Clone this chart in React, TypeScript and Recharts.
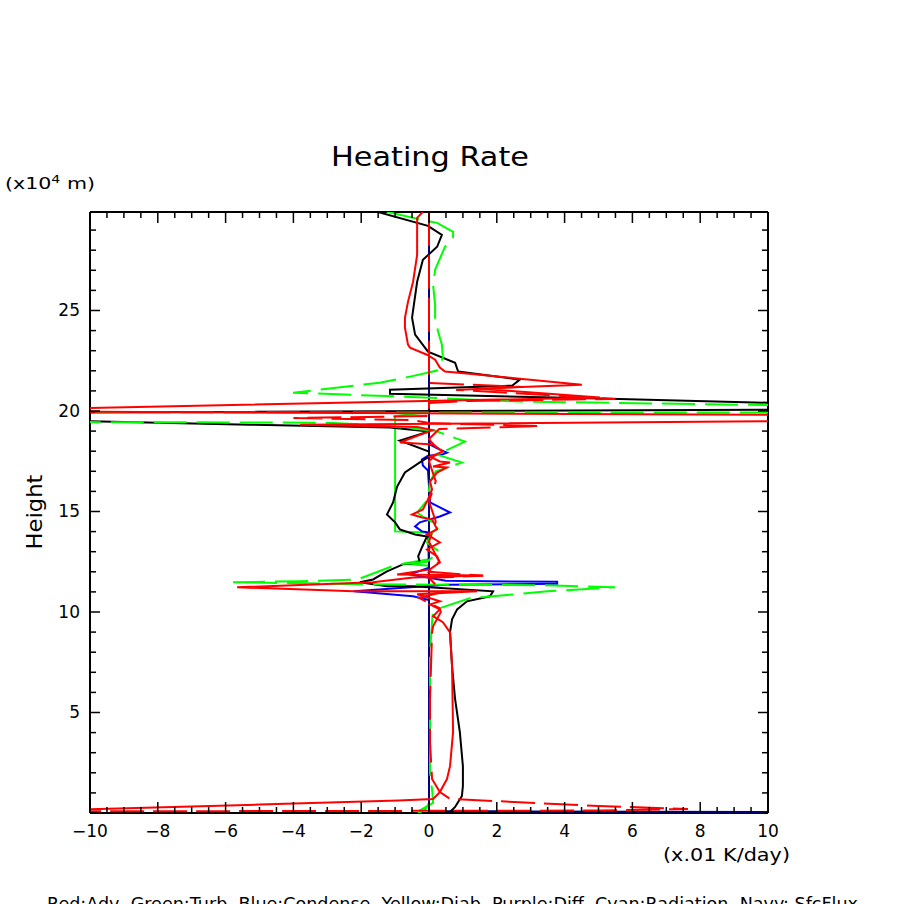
import { ScatterChart, Scatter, XAxis, YAxis } from "recharts";

// each point is [heating rate (x.01 K/day), height (x10^4 m)]
const blackTotal = [
  [-1.53, 29.91], [-0.03, 29.21], [0.38, 28.76], [0.24, 28.17], [-0.18, 27.52], [-0.35, 26.43],
  [-0.5, 24.64], [-0.41, 23.8], [-0.03, 22.95], [0.77, 22.4], [0.86, 21.96], [2.68, 21.56],
  [2.45, 21.26], [-1.15, 21.06], [-1.15, 20.86], [5.04, 20.62], [10.94, 20.37], [10.94, 20.07],
  [-10.9, 19.92], [-10.9, 19.52], [-5.28, 19.32], [-1.15, 19.18], [0, 18.98], [-0.86, 18.53],
  [0, 17.98], [0, 17.73], [-0.27, 17.44], [-0.71, 16.94], [-0.94, 16.24], [-1.06, 15.45],
  [-1.24, 14.85], [-1.0, 14.46], [-0.86, 14.11], [-0.41, 13.86], [-0.06, 13.76], [-0.21, 13.21],
  [-0.32, 12.77], [-0.27, 12.47], [-0.77, 12.37], [-1.24, 12.02], [-1.65, 11.62], [-2.04, 11.48],
  [-1.24, 11.28], [-0.47, 11.28], [1.89, 11.03], [1.8, 10.78], [1.12, 10.53], [0.83, 10.13],
  [0.68, 9.64], [0.62, 8.99], [0.68, 7.3], [0.77, 5.66], [0.91, 4.02], [1.0, 2.33], [1.0, 1.34],
  [0.97, 0.84], [0.86, 0.55], [0.77, 0.3], [0.62, 0.05],
];

const redAdv = [
  [-0.18, 29.91], [-0.35, 29.61], [-0.35, 27.77], [-0.47, 26.43], [-0.62, 25.43], [-0.71, 24.64],
  [-0.71, 24.14], [-0.62, 23.3], [-0.56, 23.15], [-0.06, 22.8], [0.18, 22.55], [0.32, 22.16],
  [0.47, 21.96], [1.42, 21.81], [2.68, 21.61], [4.51, 21.31], [1.5, 21.11], [5.04, 20.67],
  [-10.9, 20.12], [-10.9, 19.97], [10.94, 19.8], [10.94, 19.5], [-3.8, 19.32], [-0.35, 19.2],
  [0.1, 19.05], [-0.86, 18.43], [0.12, 18.33], [0.41, 17.98], [0.03, 17.73], [0.32, 17.49],
  [0.62, 17.44], [0.12, 17.24], [0.53, 17.19], [0.24, 16.94], [0.03, 16.49], [0.09, 16.1],
  [-0.03, 15.6], [-0.18, 15.1], [-0.5, 14.85], [-0.21, 14.7], [0.09, 14.61], [0.24, 14.11],
  [-0.06, 13.86], [0.32, 13.46], [-0.06, 13.11], [0.24, 12.77], [0.32, 12.47], [0.03, 12.12],
  [-0.94, 11.87], [1.59, 11.82], [-0.47, 11.72], [-1.65, 11.48], [-5.66, 11.23], [-3.89, 11.13],
  [-2.24, 11.03], [1.42, 11.03], [-0.35, 10.88], [-0.06, 10.73], [0.32, 10.53], [0.03, 10.38],
  [0.32, 10.13], [0.12, 9.79], [0.41, 9.49], [0.62, 8.99], [0.68, 7.3], [0.71, 4.02], [0.62, 2.33],
  [0.53, 1.69], [0.32, 1.04], [0.12, 0.7], [-0.9, 0.62], [-5, 0.42], [-10.9, 0.15],
];

const redAdvDash = [
  [0, 29.91], [0, 21.4], [2.7, 21.2], [0.8, 21.05], [5.5, 20.6], [1.2, 20.5], [0, 20.4],
  [0, 19.75], [-4, 19.65], [-0.5, 19.55], [0, 19.4], [3.27, 19.25], [0.3, 19.1], [0, 18.6],
  [0.3, 18.0], [0, 17.5], [0.2, 16.5], [0, 15.5], [0.2, 14.5], [0, 13.5], [0.3, 12.5], [0, 12.0],
  [1.6, 11.8], [0, 11.7], [0.4, 11.0], [-0.3, 10.7], [0.3, 10.2], [0.35, 10.0], [0.12, 9.29],
  [0.09, 8.99], [0.03, 5.66], [0.03, 3.53], [0.09, 1.69], [0.32, 1.04], [0.62, 0.7], [2.5, 0.55],
  [5, 0.35], [7.64, 0.2], [5, 0.12], [-10.9, 0.08],
];

const greenTurb = [
  [0, 29.91], [0, 19.95], [-1.0, 19.75], [-1.0, 14.01], [-0.1, 13.96], [0, 13.7], [0, 12.62],
  [-0.77, 12.4], [0, 12.3], [0, 0.5], [-0.1, 0.2], [-0.4, -0.1],
];

const greenTurbDash = [
  [-1.24, 29.91], [-0.35, 29.56], [0.24, 29.36], [0.71, 28.91], [0.71, 28.61], [0.47, 28.17],
  [0.18, 27.02], [0.12, 26.28], [0.18, 25.29], [0.18, 24.64], [0.27, 23.94], [0.38, 23.3],
  [0.41, 22.65], [0.24, 22.01], [-0.56, 21.71], [-1.45, 21.41], [-4.01, 20.91], [-0.86, 20.72],
  [2.68, 20.47], [10.94, 20.27], [10.94, 19.92], [-10.9, 19.92], [-10.9, 19.45], [-3, 19.42],
  [-1.5, 19.3], [0.2, 19.0], [1.06, 18.48], [0.24, 17.83], [0.97, 17.44], [0.2, 17.0],
  [0.03, 16.49], [-0.03, 15.6], [-0.35, 14.95], [-0.18, 14.75], [0.32, 14.26], [0.12, 14.0],
  [-0.06, 13.46], [0.3, 13.0], [-0.06, 12.5], [-0.94, 12.37], [-2.1, 11.62], [-3.8, 11.53],
  [-5.78, 11.48], [-2.0, 11.38], [3.4, 11.33], [5.49, 11.23], [3.5, 11.03], [1.2, 10.68],
  [0.12, 10.08], [0.09, 9.5], [0.03, 8.0], [0.03, 2.0], [0.1, 1.0], [0.12, 0.5], [-0.4, 0.0],
];

const blueCond = [
  [0, 29.91], [0, 18.7], [0.03, 18.33], [0.32, 18.08], [0.53, 17.93], [0.38, 17.83], [-0.03, 17.78],
  [-0.21, 17.59], [-0.18, 17.29], [-0.03, 17.04], [0.03, 15.45], [0.32, 15.2], [0.62, 14.95],
  [0.32, 14.75], [-0.27, 14.46], [-0.41, 14.26], [-0.21, 14.01], [-0.03, 13.96], [0, 12.2],
  [-0.56, 11.87], [0.5, 11.55], [3.78, 11.5], [3.78, 11.4], [0.5, 11.35], [-2.21, 11.03],
  [-0.47, 10.78], [0, 10.6], [0, 0.05],
];

const navyFlux = [[0, 29.91], [0, 0.1], [3, 0.08], [10.94, 0.05]];

const xMajor = [-10, -8, -6, -4, -2, 0, 2, 4, 6, 8, 10];
const yMajor = [5, 10, 15, 20, 25];
const xTicks = Array.from({ length: 41 }, (_, i) => -10 + i * 0.5);
const yTicks = Array.from({ length: 30 }, (_, i) => i);

const FONT = "DejaVu Sans";

const pts = (arr: number[][]) => arr.map(([x, y]) => ({ x, y }));
const noDot = () => <g />;
const fmt = (v: number) => (v < 0 ? "\u2212" + Math.abs(v) : String(v));

const BottomTick = ({ x, y, payload }: any) => {
  const major = xMajor.includes(payload.value);
  return (
    <g>
      <line x1={x} x2={x} y1={y} y2={y - (major ? 11 : 6)} stroke="#000" strokeWidth={1.5} />
      {major && (
        <text x={x} y={y + 24} textAnchor="middle" fontFamily={FONT} fontSize={17} fill="#000">
          {fmt(payload.value)}
        </text>
      )}
    </g>
  );
};

const TopTick = ({ x, y, payload }: any) => {
  const major = xMajor.includes(payload.value);
  return <line x1={x} x2={x} y1={y} y2={y + (major ? 11 : 6)} stroke="#000" strokeWidth={1.5} />;
};

const LeftTick = ({ x, y, payload }: any) => {
  const major = yMajor.includes(payload.value);
  return (
    <g>
      <line x1={x} x2={x + (major ? 10 : 6)} y1={y} y2={y} stroke="#000" strokeWidth={1.5} />
      {major && (
        <text x={x - 10} y={y + 6} textAnchor="end" fontFamily={FONT} fontSize={17} fill="#000">
          {payload.value}
        </text>
      )}
    </g>
  );
};

const RightTick = ({ x, y, payload }: any) => {
  const major = yMajor.includes(payload.value);
  return <line x1={x} x2={x - (major ? 10 : 6)} y1={y} y2={y} stroke="#000" strokeWidth={1.5} />;
};

const series = [
  { name: "turb", data: greenTurb, color: "#00ff00", dash: undefined },
  { name: "cond", data: blueCond, color: "#0000ff", dash: undefined },
  { name: "flux", data: navyFlux, color: "#000080", dash: undefined },
  { name: "total", data: blackTotal, color: "#000000", dash: undefined },
  { name: "turb2", data: greenTurbDash, color: "#00ff00", dash: "33 10" },
  { name: "adv", data: redAdv, color: "#ff0000", dash: undefined },
  { name: "adv2", data: redAdvDash, color: "#ff0000", dash: "34 9" },
];

export default function App() {
  const axisLine = { stroke: "#000", strokeWidth: 2 };
  return (
    <div style={{ position: "absolute", left: 0, top: 0, width: 904, height: 904, background: "#fff" }}>
      <ScatterChart width={904} height={904} margin={{ top: 211, right: 135, bottom: 0, left: 0 }}>
        <XAxis
          xAxisId="b" type="number" dataKey="x" domain={[-10, 10]} allowDataOverflow
          ticks={xTicks} interval={0} height={91} tickSize={0} tickMargin={0} tickLine={false}
          axisLine={axisLine} tick={(p: any) => <BottomTick {...p} />}
        />
        <XAxis
          xAxisId="t" orientation="top" type="number" dataKey="x" domain={[-10, 10]} allowDataOverflow
          ticks={xTicks} interval={0} height={1} tickSize={0} tickMargin={0} tickLine={false}
          axisLine={axisLine} tick={(p: any) => <TopTick {...p} />}
        />
        <YAxis
          yAxisId="l" type="number" dataKey="y" domain={[0, 29.9]} allowDataOverflow
          ticks={yTicks} interval={0} width={90} tickSize={0} tickMargin={0} tickLine={false}
          axisLine={axisLine} tick={(p: any) => <LeftTick {...p} />}
        />
        <YAxis
          yAxisId="r" orientation="right" type="number" dataKey="y" domain={[0, 29.9]} allowDataOverflow
          ticks={yTicks} interval={0} width={1} tickSize={0} tickMargin={0} tickLine={false}
          axisLine={axisLine} tick={(p: any) => <RightTick {...p} />}
        />
        {/* invisible series so the mirrored top/right axes get drawn */}
        <Scatter
          xAxisId="t"
          yAxisId="r"
          data={pts(navyFlux)}
          fill="none"
          shape={noDot}
          isAnimationActive={false}
        />
        {series.map((s) => (
          <Scatter
            key={s.name}
            xAxisId="b"
            yAxisId="l"
            data={pts(s.data)}
            fill={s.color}
            shape={noDot}
            line={{ stroke: s.color, strokeWidth: 2, strokeDasharray: s.dash }}
            lineType="joint"
            isAnimationActive={false}
          />
        ))}
      </ScatterChart>
      <svg width={904} height={904} style={{ position: "absolute", left: 0, top: 0, pointerEvents: "none" }}>
        <text x={430} y={166} textAnchor="middle" fontFamily={FONT} fontSize={27} textLength={198} lengthAdjust="spacingAndGlyphs">
          Heating Rate
        </text>
        <text x={5} y={189} fontFamily={FONT} fontSize={16} textLength={90} lengthAdjust="spacingAndGlyphs">
          (x10<tspan dy={-6} fontSize={11}>4</tspan><tspan dy={6}> m)</tspan>
        </text>
        <text
          x={35} y={512} textAnchor="middle" fontFamily={FONT} fontSize={21}
          transform="rotate(-90 35 512)" dy={7} textLength={75} lengthAdjust="spacingAndGlyphs"
        >
          Height
        </text>
        <text x={663} y={861} fontFamily={FONT} fontSize={17} textLength={127} lengthAdjust="spacingAndGlyphs">
          (x.01 K/day)
        </text>
        <text x={47} y={910} fontFamily={FONT} fontSize={17} textLength={811} lengthAdjust="spacingAndGlyphs" style={{ whiteSpace: "pre" }}>
          {"Red:Adv  Green:Turb  Blue:Condense  Yellow:Diab  Purple:Diff  Cyan:Radiation  Navy: SfcFlux"}
        </text>
      </svg>
    </div>
  );
}
